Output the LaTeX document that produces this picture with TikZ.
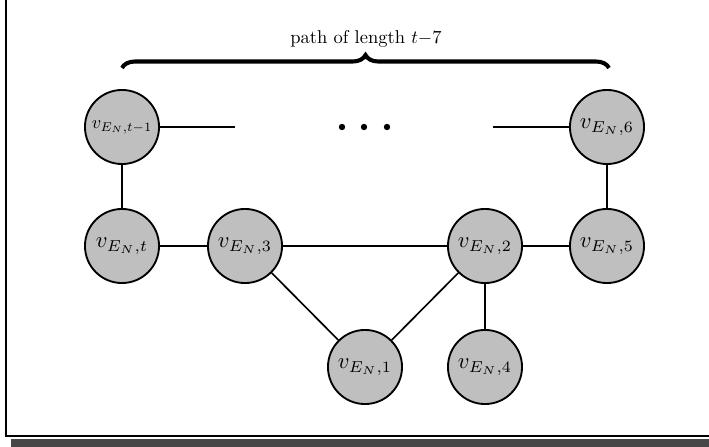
\documentclass[tikz,border=0pt]{standalone}
\usetikzlibrary{decorations.pathreplacing}
\newcommand{\vlab}[1]{\scalebox{0.61}{$v_{E_N,#1}$}}
\begin{document}
\begin{tikzpicture}[x=0.27pt,y=-0.27pt,
  vert/.style={circle,draw=black,line width=0.5pt,fill=gray!50,minimum size=20pt,inner sep=0pt},
  edge/.style={line width=0.45pt}]
\useasboundingbox (0,0) rectangle (709,447);
% frame and shadow
\fill[black!72] (11,439) rectangle (709,447);
\draw[line width=0.6pt] (6,-5) -- (6,436) -- (715,436);
% nodes
\node[vert] (vt1) at (122,127) {\scalebox{0.49}{$v_{E_N,t-1}$}};
\node[vert] (vt) at (122,246) {\vlab{t}};
\node[vert] (v3) at (245,246) {\vlab{3}};
\node[vert] (v2) at (485,246) {\vlab{2}};
\node[vert] (v5) at (607,246) {\vlab{5}};
\node[vert] (v6) at (607,127) {\vlab{6}};
\node[vert] (v1) at (365,367) {\vlab{1}};
\node[vert] (v4) at (485,367) {\vlab{4}};
\coordinate (pl) at (235,127);
\coordinate (pr) at (493,127);
% dots
\foreach \x in {342,364,387} \fill (\x,127) circle (3.2);
% edges
\draw[edge] (vt1) -- (pl);
\draw[edge] (pr) -- (v6);
\draw[edge] (vt1) -- (vt);
\draw[edge] (vt) -- (v3);
\draw[edge] (v3) -- (v2);
\draw[edge] (v2) -- (v5);
\draw[edge] (v5) -- (v6);
\draw[edge] (v3) -- (v1);
\draw[edge] (v1) -- (v2);
\draw[edge] (v2) -- (v4);
% brace
\coordinate (bl) at (122,68);
\coordinate (br) at (609,68);
\draw[line width=1.1pt,decorate,decoration={brace,amplitude=3.5pt}] (bl) -- (br);
\node (lbl) at (366,39) {\scalebox{0.5}{path of length $t{-}7$}};
\end{tikzpicture}
\end{document}
